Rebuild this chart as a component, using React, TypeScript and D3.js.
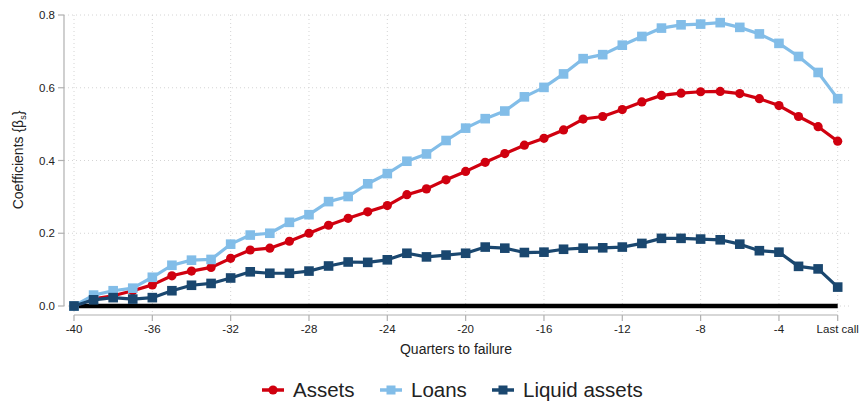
import React from "react";
import * as d3 from "d3";

const quarters = d3.range(-40, 0); // -40 .. -1
const assets = [0, 0.02, 0.028, 0.042, 0.058, 0.083, 0.096, 0.106, 0.131, 0.154, 0.159, 0.178, 0.2, 0.222, 0.241, 0.259, 0.276, 0.306, 0.322, 0.347, 0.37, 0.395, 0.419, 0.442, 0.461, 0.484, 0.514, 0.521, 0.54, 0.561, 0.579, 0.585, 0.589, 0.59, 0.584, 0.57, 0.551, 0.521, 0.493, 0.453];
const loans = [0, 0.03, 0.042, 0.049, 0.079, 0.112, 0.126, 0.128, 0.17, 0.195, 0.2, 0.23, 0.251, 0.287, 0.301, 0.336, 0.364, 0.398, 0.418, 0.455, 0.489, 0.515, 0.536, 0.575, 0.601, 0.638, 0.68, 0.691, 0.717, 0.741, 0.764, 0.773, 0.775, 0.779, 0.766, 0.748, 0.722, 0.686, 0.642, 0.57];
const liquid = [0, 0.017, 0.023, 0.019, 0.023, 0.042, 0.057, 0.062, 0.077, 0.094, 0.09, 0.09, 0.096, 0.11, 0.121, 0.12, 0.127, 0.145, 0.135, 0.14, 0.145, 0.162, 0.159, 0.147, 0.148, 0.156, 0.159, 0.16, 0.162, 0.172, 0.186, 0.186, 0.184, 0.182, 0.17, 0.152, 0.148, 0.109, 0.102, 0.052];
const xTicks = [-40, -36, -32, -28, -24, -20, -16, -12, -8, -4, -1];
const xTickLabels = ["-40", "-36", "-32", "-28", "-24", "-20", "-16", "-12", "-8", "-4", "Last call"];
const yTicks = [0, 0.2, 0.4, 0.6, 0.8];
const seriesNames = ["Assets", "Loans", "Liquid assets"];
const seriesColors = ["#d0000f", "#82bde8", "#1a476f"];
const seriesMarkers = ["circle", "square", "square"];

const W = 862, H = 403;
const FONT = "Liberation Sans, Arial, sans-serif";

export default function App() {
  const x = d3.scaleLinear().domain([-40, -1]).range([74, 837.7]);
  const y = d3.scaleLinear().domain([0, 0.8]).range([306, 15]);
  const data = [assets, loans, liquid];
  const line = d3.line<number>().x((_, i) => x(quarters[i])).y((d) => y(d));
  const legendX = [262, 380, 492];
  const legendY = 390;
  return (
    <svg width={W} height={H} style={{ position: "absolute", left: 0, top: 0, background: "#fff" }} fontFamily={FONT}>
      <rect width={W} height={H} fill="#fff" />
      {/* grid */}
      {yTicks.map((t) => (
        <line key={"gy" + t} x1={64} x2={850} y1={y(t)} y2={y(t)} stroke="#d4d4d4" strokeWidth={1} strokeDasharray="1,3" />
      ))}
      {xTicks.map((t) => (
        <line key={"gx" + t} x1={x(t)} x2={x(t)} y1={15} y2={315} stroke="#d4d4d4" strokeWidth={1} strokeDasharray="1,3" />
      ))}
      {/* axes */}
      <line x1={64} x2={64} y1={y(0.8)} y2={y(0)} stroke="#b0b0b0" strokeWidth={1.2} />
      {yTicks.map((t) => (
        <g key={"yt" + t}>
          <line x1={58} x2={64} y1={y(t)} y2={y(t)} stroke="#b0b0b0" strokeWidth={1.2} />
          <text x={55} y={y(t)} dy="0.35em" textAnchor="end" fontSize={11.5} fill="#222">{d3.format(".1f")(t)}</text>
        </g>
      ))}
      <line x1={x(-40)} x2={x(-1)} y1={315} y2={315} stroke="#b0b0b0" strokeWidth={1.2} />
      {xTicks.map((t, i) => (
        <g key={"xt" + t}>
          <line x1={x(t)} x2={x(t)} y1={315} y2={321} stroke="#b0b0b0" strokeWidth={1.2} />
          <text x={x(t)} y={333} textAnchor="middle" fontSize={11.5} fill="#222">{xTickLabels[i]}</text>
        </g>
      ))}
      <text x={456} y={354} textAnchor="middle" fontSize={14} fill="#222">Quarters to failure</text>
      <text transform={`translate(23,160) rotate(-90)`} textAnchor="middle" fontSize={14} fill="#222">
        Coefficients {"{β"}
        <tspan fontSize={9} dy={3}>s</tspan>
        <tspan dy={-3}>{"}"}</tspan>
      </text>
      {/* zero line */}
      <line x1={x(-40)} x2={x(-1)} y1={y(0)} y2={y(0)} stroke="#000" strokeWidth={4.5} />
      {/* series */}
      {data.map((s, si) => (
        <g key={"s" + si}>
          <path d={line(s) || ""} fill="none" stroke={seriesColors[si]} strokeWidth={3.2} strokeLinejoin="round" />
          {s.map((v, i) =>
            seriesMarkers[si] === "circle" ? (
              <circle key={i} cx={x(quarters[i])} cy={y(v)} r={4.6} fill={seriesColors[si]} />
            ) : (
              <rect key={i} x={x(quarters[i]) - 4.8} y={y(v) - 4.8} width={9.6} height={9.6} fill={seriesColors[si]} />
            )
          )}
        </g>
      ))}
      {/* legend */}
      {seriesNames.map((n, i) => (
        <g key={"lg" + i}>
          <line x1={legendX[i]} x2={legendX[i] + 22} y1={legendY} y2={legendY} stroke={seriesColors[i]} strokeWidth={3.5} />
          {seriesMarkers[i] === "circle" ? (
            <circle cx={legendX[i] + 11} cy={legendY} r={4.6} fill={seriesColors[i]} />
          ) : (
            <rect x={legendX[i] + 11 - 4.5} y={legendY - 4.5} width={9} height={9} fill={seriesColors[i]} />
          )}
          <text x={legendX[i] + 31} y={legendY} dy="0.36em" fontSize={20.5} fill="#222">{n}</text>
        </g>
      ))}
    </svg>
  );
}
